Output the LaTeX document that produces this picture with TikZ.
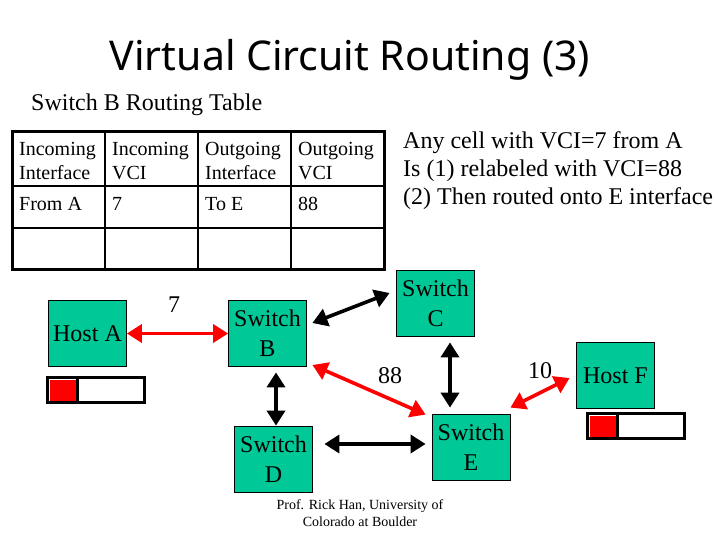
\documentclass[tikz,border=0pt]{standalone}
\usepackage{fontspec}
\usepackage{tikz}
\usetikzlibrary{arrows.meta}
\setmainfont{Liberation Serif}
\newfontfamily\titlefont{Noto Sans}
\definecolor{boxgreen}{RGB}{0,200,150}
\tikzset{
	swbox/.style={draw=black,fill=boxgreen,line width=0.8pt,minimum width=78pt,minimum height=66pt,inner sep=0pt,align=center,font=\fontsize{24}{30}\selectfont},
	cell/.style={anchor=west,inner sep=0pt,align=left,font=\fontsize{20}{24}\selectfont},
	link/.style={line width=3.6pt,{Triangle[length=15pt,width=18pt]}-{Triangle[length=15pt,width=18pt]}},
	lbl/.style={inner sep=0pt,align=center,font=\fontsize{24}{28}\selectfont}
}
\begin{document}
\begin{tikzpicture}[x=1pt,y=-1pt]
	\useasboundingbox (0,0) rectangle (720,540);
	
	%title
	\node[inner sep=0pt,font=\titlefont\fontsize{41}{48}\selectfont] (title) at (350,60) {Virtual Circuit Routing (3)};
	\node[lbl,anchor=west] (subtitle) at (31,105) {Switch B Routing Table};
	
	%table
	\draw[line width=2pt] (12,186)--(384,186);
	\draw[line width=2pt] (12,228)--(384,228);
	\foreach \x in {105,198,291}
	\draw[line width=2pt] (\x,132)--(\x,269);
	\draw[line width=3pt] (12,132) rectangle (384,269);
	
	\node[cell] (headA) at (19,161) {Incoming\\Interface};
	\node[cell] (headB) at (112,161) {Incoming\\VCI};
	\node[cell] (headC) at (205,161) {Outgoing\\Interface};
	\node[cell] (headD) at (298,161) {Outgoing\\VCI};
	\node[cell] (rowA) at (19,204) {From A};
	\node[cell] (rowB) at (112,204) {7};
	\node[cell] (rowC) at (205,204) {To E};
	\node[cell] (rowD) at (298,204) {88};
	
	%explanation
	\node[lbl,anchor=west,align=left] (note) at (403,171) {Any cell with VCI=7 from A\\Is (1) relabeled with VCI=88\\(2) Then routed onto E interface};
	
	%boxes
	\node[swbox] (hostA) at (87.5,333.5) {Host A};
	\node[swbox] (swB) at (267.5,333.5) {Switch\\B};
	\node[swbox] (swC) at (435.5,303) {Switch\\C};
	\node[swbox] (swD) at (273.5,459) {Switch\\D};
	\node[swbox] (swE) at (471,447) {Switch\\E};
	\node[swbox] (hostF) at (615.5,375.5) {Host F};
	
	%cell buffers
	\foreach \x/\y in {47.5/377.5,587.5/413.5}{
		\draw[line width=3pt,fill=white] (\x,\y) rectangle +(97,25);
		\fill[red] (\x+2,\y+2) rectangle +(26,21);
		\draw[line width=3pt] (\x+30,\y)--(\x+30,\y+25);
	}
	
	%links
	\draw[link,red] (hostA.east)--(swB.west);
	\draw[link] ([xshift=5.5pt,yshift=10.5pt]swB.east)--([xshift=-6.5pt,yshift=10pt]swC.west);
	\draw[link,red] ([xshift=5.5pt,yshift=-31.5pt]swB.east)--([xshift=-6pt,yshift=-1pt]swE.north west);
	\draw[link] ([xshift=8.5pt,yshift=-5.5pt]swB.south)--([xshift=2.5pt]swD.north);
	\draw[link] ([xshift=14.5pt,yshift=-6pt]swC.south)--([xshift=-21pt,yshift=6pt]swE.north);
	\draw[link] ([xshift=11.5pt,yshift=15pt]swD.east)--([xshift=-6pt,yshift=3pt]swE.west);
	\draw[link,red] ([yshift=6pt]swE.north east)--([xshift=-6.5pt,yshift=-2.5pt]hostF.west);
	
	%labels
	\node[lbl] (vciA) at (174,305) {7};
	\node[lbl] (vciB) at (390,376) {88};
	\node[lbl] (vciF) at (540,371) {10};
	\node[inner sep=0pt,align=center,font=\fontsize{14}{17}\selectfont] (credit) at (360,513) {Prof. Rick Han, University of\\Colorado at Boulder};
\end{tikzpicture}
\end{document}
